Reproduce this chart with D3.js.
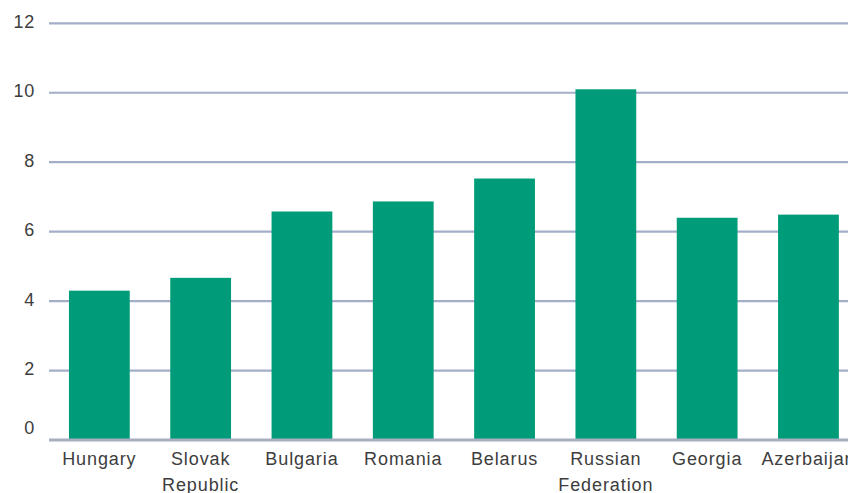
<!DOCTYPE html>
<html>
<head>
<meta charset="utf-8">
<script src="https://cdn.jsdelivr.net/npm/d3@7"></script>
<style>
  html, body { margin: 0; padding: 0; background: #fff; overflow: hidden; }
  svg { display: block; }
  text { font-family: "Liberation Sans", Arial, sans-serif; fill: #3d3d3d; }
</style>
</head>
<body>
<svg id="chart" width="848" height="493"></svg>
<script>
const categories = [["Hungary"], ["Slovak", "Republic"], ["Bulgaria"], ["Romania"], ["Belarus"], ["Russian", "Federation"], ["Georgia"], ["Azerbaijan"]];
const values = [4.3, 4.67, 6.58, 6.87, 7.53, 10.1, 6.4, 6.49];
const yTicks = [0, 2, 4, 6, 8, 10, 12];

const svg = d3.select("#chart");
const keys = categories.map(c => c.join(" "));

const x = d3.scaleBand().domain(keys).range([48.7, 859.1]).paddingInner(0.4).paddingOuter(0.2);
const y = d3.scaleLinear().domain([0, 12]).range([440, 23.3]);

// gridlines
svg.append("g").selectAll("line").data(yTicks.filter(t => t > 0)).join("line")
  .attr("x1", 49).attr("x2", 860)
  .attr("y1", d => y(d)).attr("y2", d => y(d))
  .attr("stroke", "#a4aec9").attr("stroke-width", 2.2);

// y labels
svg.append("g").selectAll("text").data(yTicks).join("text")
  .attr("x", 35).attr("y", d => d === 0 ? y(d) - 12 : y(d) - 1.5)
  .attr("text-anchor", "end").attr("dominant-baseline", "central")
  .style("font-size", "18px").style("letter-spacing", "0.8px")
  .text(d => d);

// bars
svg.append("g").selectAll("rect").data(values).join("rect")
  .attr("x", (d, i) => x(keys[i]))
  .attr("width", x.bandwidth())
  .attr("y", d => y(d))
  .attr("height", d => y(0) - y(d))
  .attr("fill", "#009b78");

// baseline
svg.append("line").attr("x1", 49).attr("x2", 860)
  .attr("y1", y(0)).attr("y2", y(0))
  .attr("stroke", "#a8adc2").attr("stroke-width", 3);

// x labels
const xl = svg.append("g").selectAll("text").data(categories).join("text")
  .attr("text-anchor", "middle")
  .style("font-size", "18px").style("letter-spacing", "0.9px")
  .attr("transform", (d, i) => `translate(${x(keys[i]) + x.bandwidth() / 2},465)`);
xl.selectAll("tspan").data(d => d).join("tspan")
  .attr("x", 0).attr("y", (d, j) => j * 26)
  .text(d => d);
</script>
</body>
</html>
